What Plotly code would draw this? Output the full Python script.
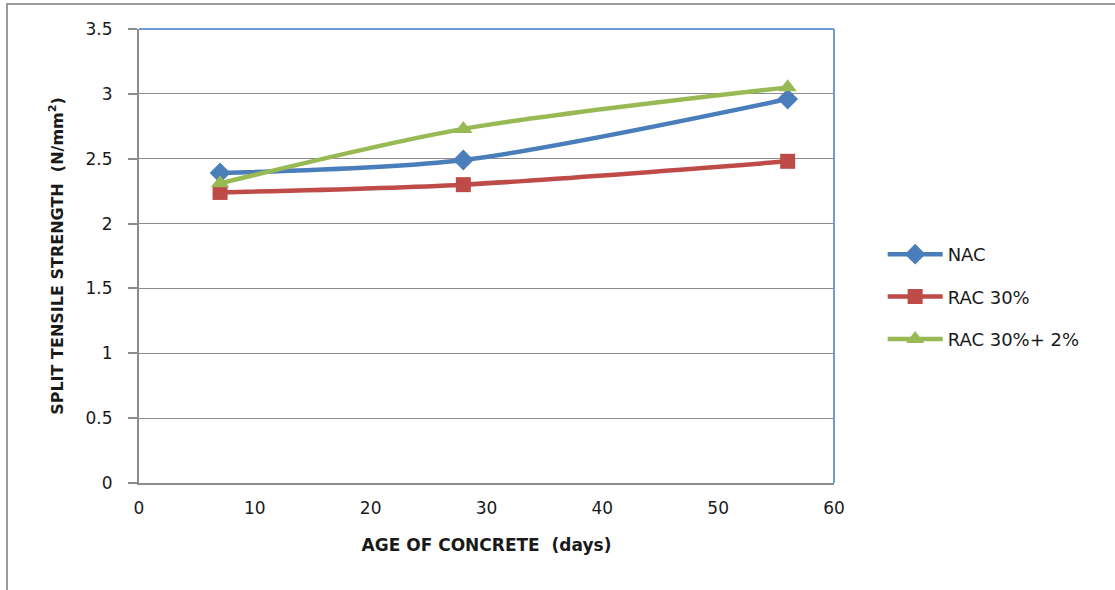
import plotly.graph_objects as go

# Concrete age (days) and split tensile strength (N/mm²)
age_days = [7, 28, 56]
nac = [2.39, 2.49, 2.96]
rac_30 = [2.24, 2.30, 2.48]
rac_30_2 = [2.31, 2.73, 3.05]

series_names = ["NAC", "RAC 30%", "RAC 30%+ 2%"]
x_ticks = [0, 10, 20, 30, 40, 50, 60]
y_ticks = [0, 0.5, 1, 1.5, 2, 2.5, 3, 3.5]

styles = [
    dict(color="#4A7EBB", symbol="diamond", size=16),
    dict(color="#BE4B48", symbol="square", size=15),
    dict(color="#98B954", symbol="triangle-up", size=16),
]

fig = go.Figure()
for i, (name, vals, st) in enumerate(zip(series_names, [nac, rac_30, rac_30_2], styles)):
    fig.add_trace(go.Scatter(
        x=age_days, y=vals, name=name, mode="lines+markers",
        line=dict(color=st["color"], width=4.5, shape="spline", smoothing=0.8),
        marker=dict(symbol=st["symbol"], size=st["size"], color=st["color"]),
        legendgroup=f"g{i}",
    ))

font_family = "'DejaVu Sans', sans-serif"
text_color = "#1a1a1a"

fig.update_layout(
    width=1115, height=590,
    margin=dict(l=139, r=281, t=29, b=107),
    paper_bgcolor="white", plot_bgcolor="white",
    font=dict(family=font_family, size=17, color=text_color),
    showlegend=True,
    legend=dict(
        x=1.07, y=(483 - 297) / 454, xanchor="left", yanchor="middle",
        font=dict(size=18, color=text_color),
        tracegroupgap=16, itemwidth=55,
        bgcolor="rgba(0,0,0,0)",
    ),
    xaxis=dict(
        range=[0, 60], tickvals=x_ticks, showgrid=False,
        showline=True, linecolor="#8c8c8c", linewidth=2,
        ticks="", zeroline=False, mirror=False,
        ticklabelstandoff=9,
        tickfont=dict(size=17, color=text_color),
        title=dict(text="<b>AGE OF CONCRETE  (days)</b>", font=dict(size=17, color=text_color), standoff=22),
    ),
    yaxis=dict(
        range=[0, 3.5], tickvals=y_ticks, ticktext=[f"{v:g}" for v in y_ticks],
        showgrid=True, gridcolor="#8c8c8c", gridwidth=1,
        showline=True, linecolor="#8c8c8c", linewidth=2,
        ticks="outside", ticklen=9, tickcolor="#8c8c8c", tickwidth=1.5,
        ticklabelstandoff=12,
        zeroline=False,
        tickfont=dict(size=17, color=text_color),
        title=dict(text="<b>SPLIT TENSILE STRENGTH  (N/mm<sup>2</sup>)</b>", font=dict(size=16, color=text_color), standoff=18),
    ),
)

# Top and right plot-area border
fig.add_shape(type="line", xref="paper", yref="paper", x0=0, x1=1, y0=1, y1=1,
              line=dict(color="#6F9BD4", width=2))
fig.add_shape(type="line", xref="paper", yref="paper", x0=1, x1=1, y0=0, y1=1,
              line=dict(color="#6F9BD4", width=2))
# Outer chart frame
fig.add_shape(type="rect", xref="paper", yref="paper",
              x0=(7 - 139) / 695, x1=1.45, y0=-0.3, y1=(483 - 4) / 454,
              line=dict(color="#9a9a9a", width=2), layer="below")

fig.write_html("out.html")
